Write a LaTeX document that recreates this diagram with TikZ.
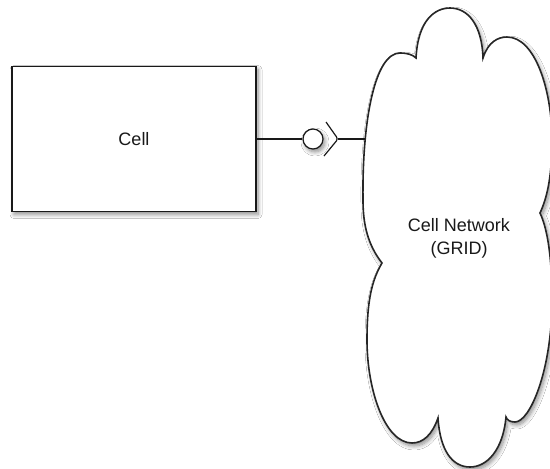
\documentclass[tikz,border=0pt]{standalone}
\usepackage{fontspec}
\setmainfont{Liberation Sans}
\usetikzlibrary{shadows.blur}
\begin{document}
\begin{tikzpicture}[x=1pt,y=-1pt,
  shade/.style={blur shadow={shadow xshift=2pt,shadow yshift=-3pt,shadow blur steps=8,shadow blur radius=4pt,shadow opacity=45}},
  boxnode/.style={draw=black!90,line width=1.7pt,fill=white,shade,minimum width=244pt,minimum height=145pt,inner sep=0pt},
  cloudline/.style={draw=black!85,line width=1.6pt,fill=white,shade},
  link/.style={draw=black!90,line width=1.2pt},
  ballnode/.style={circle,draw=black!90,line width=1.2pt,fill=white,shade,minimum size=20pt,inner sep=0pt},
  lbl/.style={font=\fontsize{18}{23}\selectfont,align=center,text=black!90}]
\useasboundingbox (0,0) rectangle (550,469);
\fill[white] (0,0) rectangle (550,469);
% cloud
\path[cloudline] (363,200)
  .. controls (362,120) and (375,53) .. (400,53)
  .. controls (408,53) and (413,55) .. (416,58)
  .. controls (418,20) and (435,8) .. (450,8)
  .. controls (468,8) and (482,25) .. (483,58)
  .. controls (488,42) and (498,37) .. (507,37)
  .. controls (535,37) and (552,90) .. (552,140)
  .. controls (552,180) and (546,200) .. (540,213)
  .. controls (548,230) and (552,260) .. (552,300)
  .. controls (552,370) and (530,422) .. (515,422)
  .. controls (510,422) and (507,420) .. (506,417)
  .. controls (503,450) and (487,467) .. (470,467)
  .. controls (452,467) and (440,450) .. (438,418)
  .. controls (432,435) and (423,443) .. (412,443)
  .. controls (385,443) and (367,390) .. (367,340)
  .. controls (367,300) and (372,280) .. (382,263)
  .. controls (368,245) and (363,225) .. (363,200) -- cycle;
\node[lbl] (net) at (459,238) {Cell Network\\(GRID)};
\coordinate (netedge) at (365,139);
% cell box
\node[boxnode] (cell) at (134,139) {};
\node[lbl] (celltext) at (134,139) {Cell};
% ball and socket
\node[ballnode] (ball) at (313,139) {};
\coordinate (sockettip) at (338,139);
\draw[link] (cell.east) -- (ball.west);
\draw[link,rounded corners=2.5pt] (326,122) -- (sockettip) -- (324,156);
\draw[link] (sockettip) -- (netedge);
\end{tikzpicture}
\end{document}
